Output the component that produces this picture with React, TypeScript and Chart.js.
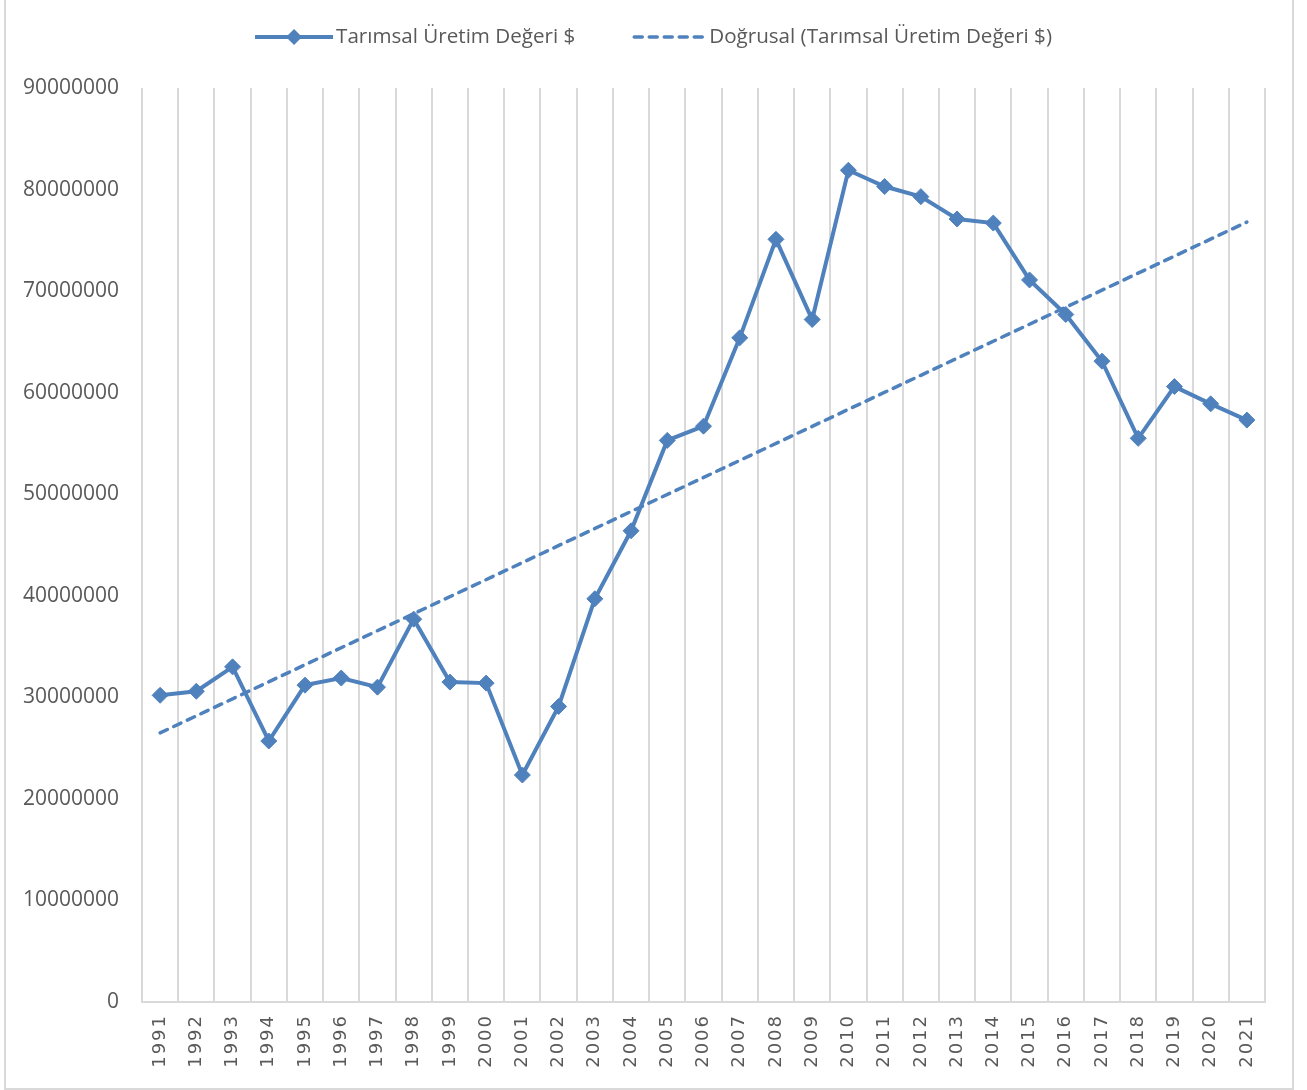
import React, { useEffect, useRef } from "react";
import { Chart, registerables } from "chart.js";

Chart.register(...registerables);

const years = [
  "1991", "1992", "1993", "1994", "1995", "1996", "1997", "1998", "1999", "2000",
  "2001", "2002", "2003", "2004", "2005", "2006", "2007", "2008", "2009", "2010",
  "2011", "2012", "2013", "2014", "2015", "2016", "2017", "2018", "2019", "2020", "2021",
];

const productionValues = [
  30200000, 30600000, 33000000, 25700000, 31200000, 31900000, 31000000, 37700000, 31500000, 31400000,
  22350000, 29100000, 39700000, 46400000, 55300000, 56700000, 65400000, 75100000, 67200000, 81900000,
  80300000, 79300000, 77100000, 76700000, 71100000, 67700000, 63100000, 55500000, 60600000, 58900000, 57300000,
];

// Linear trend line endpoints (1991 and 2021)
const trendStart = 26500000;
const trendEnd = 76800000;

const seriesLabel = "Tarımsal Üretim Değeri $";
const trendLabel = "Doğrusal (Tarımsal Üretim Değeri $)";

const yMin = 0;
const yMax = 90000000;
const yStep = 10000000;

const BLUE = "#4F81BD";
const TEXT = "#595959";
const GRID = "#D9D9D9";

const legendPlugin = {
  id: "excelLegend",
  afterDraw(chart: any) {
    const ctx = chart.ctx as CanvasRenderingContext2D;
    ctx.save();
    ctx.font = '20.6px "Open Sans"';
    ctx.fillStyle = TEXT;
    ctx.textBaseline = "middle";
    const y = 37;
    const sampleW1 = 78;
    const sampleW2 = 74;
    const textGap = 3;
    const itemGap = 57;
    const labels = chart.data.datasets.map((d: any) => d.label as string);
    const w1 = ctx.measureText(labels[0]).width;
    const w2 = ctx.measureText(labels[1]).width;
    const total = sampleW1 + textGap + w1 + itemGap + sampleW2 + textGap + w2;
    let x = chart.width / 2 - total / 2;
    ctx.strokeStyle = BLUE;
    ctx.lineWidth = 4;
    ctx.beginPath();
    ctx.moveTo(x, y);
    ctx.lineTo(x + sampleW1, y);
    ctx.stroke();
    const cx = x + sampleW1 / 2;
    ctx.fillStyle = BLUE;
    ctx.beginPath();
    ctx.moveTo(cx, y - 8);
    ctx.lineTo(cx + 8, y);
    ctx.lineTo(cx, y + 8);
    ctx.lineTo(cx - 8, y);
    ctx.closePath();
    ctx.fill();
    x += sampleW1 + textGap;
    ctx.fillStyle = TEXT;
    ctx.fillText(labels[0], x, y);
    x += w1 + itemGap;
    ctx.strokeStyle = BLUE;
    ctx.lineWidth = 3.5;
    ctx.lineCap = "round";
    ctx.setLineDash([8, 7]);
    ctx.beginPath();
    ctx.moveTo(x + 2, y);
    ctx.lineTo(x + sampleW2 - 2, y);
    ctx.stroke();
    ctx.setLineDash([]);
    x += sampleW2 + textGap;
    ctx.fillStyle = TEXT;
    ctx.fillText(labels[1], x, y);
    ctx.restore();
  },
};

// Adds letter spacing to the category labels, as in the reference
const xLabelSpacingPlugin = {
  id: "xLabelSpacing",
  beforeDraw(chart: any) {
    const scale = chart.scales.x;
    if (!scale || scale.__spaced) return;
    const orig = scale.drawLabels;
    scale.drawLabels = function (area: any) {
      const ctx = this.ctx as any;
      const prev = ctx.letterSpacing;
      ctx.letterSpacing = "2px";
      orig.call(this, area);
      ctx.letterSpacing = prev || "0px";
    };
    scale.__spaced = true;
  },
};

export default function App() {
  const canvasRef = useRef<HTMLCanvasElement | null>(null);

  useEffect(() => {
    if (!canvasRef.current) return;
    const trendData: (number | null)[] = years.map(() => null);
    trendData[0] = trendStart;
    trendData[years.length - 1] = trendEnd;

    const chart = new Chart(canvasRef.current, {
      type: "line",
      data: {
        labels: years,
        datasets: [
          {
            label: seriesLabel,
            data: productionValues,
            borderColor: BLUE,
            backgroundColor: BLUE,
            borderWidth: 4,
            pointStyle: "rectRot",
            pointRadius: 8,
            pointBorderWidth: 1,
            pointBackgroundColor: BLUE,
            pointBorderColor: BLUE,
            tension: 0,
            order: 1,
          },
          {
            label: trendLabel,
            data: trendData,
            borderColor: BLUE,
            borderWidth: 3.5,
            borderDash: [8, 7],
            borderCapStyle: "round",
            pointRadius: 0,
            spanGaps: true,
            fill: false,
            order: 2,
          },
        ],
      },
      options: {
        animation: false,
        responsive: false,
        events: [],
        layout: { padding: { top: 88, right: 42, bottom: 0, left: 0 } },
        plugins: {
          legend: { display: false },
          tooltip: { enabled: false },
        },
        scales: {
          x: {
            offset: true,
            grid: { display: true, offset: true, color: GRID, lineWidth: 2, drawTicks: false },
            border: { display: true, color: GRID, width: 2 },
            ticks: {
              autoSkip: false,
              minRotation: 90,
              maxRotation: 90,
              padding: 12,
              color: TEXT,
              font: { family: '"DejaVu Sans"', size: 18 },
            },
            afterFit(scale: any) {
              scale.height = 88;
            },
          },
          y: {
            min: yMin,
            max: yMax,
            grid: { display: false, drawTicks: false },
            border: { display: false },
            ticks: {
              stepSize: yStep,
              padding: 23,
              color: TEXT,
              font: { family: '"Open Sans"', size: 21 },
              callback: (v: any) => String(v),
            },
            afterFit(scale: any) {
              scale.width = 142;
            },
          },
        },
      },
      plugins: [xLabelSpacingPlugin, legendPlugin],
    } as any);
    return () => chart.destroy();
  }, []);

  return (
    <div style={{ position: "fixed", left: 0, top: 0, width: 1307, height: 1090, background: "#fff" }}>
      <div
        style={{
          position: "absolute",
          left: 4,
          top: -2,
          width: 1290,
          height: 1092,
          boxSizing: "border-box",
          border: `2px solid ${GRID}`,
        }}
      />
      <canvas
        ref={canvasRef}
        width={1307}
        height={1090}
        style={{ position: "absolute", left: 0, top: 0, width: 1307, height: 1090 }}
      />
    </div>
  );
}
